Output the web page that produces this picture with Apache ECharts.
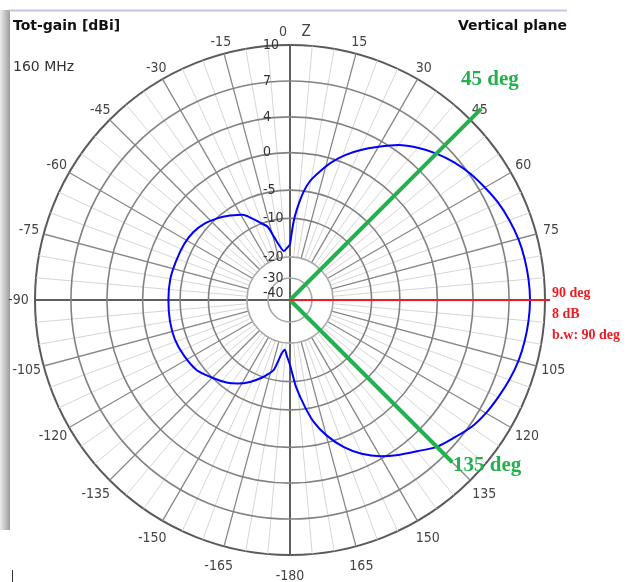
<!DOCTYPE html>
<html><head><meta charset="utf-8">
<script src="https://cdn.jsdelivr.net/npm/echarts@6/dist/echarts.min.js"></script>
<style>html,body{margin:0;padding:0;background:#fff}#c{width:632px;height:582px}</style>
</head><body><div id="c"></div>
<script>
// ---- radial (dB) scale: ring values, their labels, and the normalized radius of each ring ----
const ringDb = [10, 7, 4, 0, -5, -10, -20, -30, -40];
const ringLabels = ['10', '7', '4', '0', '-5', '-10', '-20', '-30', '-40'];
const ringScaleR = [1, 0.859, 0.718, 0.578, 0.431, 0.320, 0.169, 0.086, 0];

// ---- angle axis tick labels (deg, clockwise from zenith) ----
const angleTicks = [15, 30, 45, 60, 75, 105, 120, 135, 150, 165, -180, -165, -150, -135, -120, -105, -90, -75, -60, -45, -30, -15];

// ---- radiation pattern: elevation angle (deg) and total gain (dBi) ----
const patternAngle = [0, 2.5, 4.3, 7, 9.5, 13, 17, 21, 25, 30, 35, 40, 45, 50, 55, 60, 65, 70, 75, 80, 85, 90,
  95, 100, 105, 110, 115, 120, 125, 130, 135, 140, 145, 150, 155, 160, 165, 169, 172, 176, 178, 180,
  -177, -174, -171, -167, -164, -160, -154, -148, -143, -135, -127, -118, -109, -100, -90, -80, -71,
  -62, -55, -48, -41, -36, -32, -29, -25, -21, -17, -14, -11, -7, -3, 0];
const patternGain = [-16.8, -11.1, -8.4, -5.3, -3.6, -2.1, -0.4, 0.9, 2.0, 3.3, 4.5, 5.3, 6.0, 6.6, 7.1, 7.5, 7.9, 8.2, 8.45, 8.6, 8.7, 8.75,
  8.7, 8.6, 8.45, 8.2, 7.9, 7.6, 7.2, 6.6, 6.05, 5.2, 4.5, 3.7, 2.5, 1.0, -1.0, -3.1, -5.3, -9.0, -11.8, -14.3,
  -16.5, -18.2, -17.0, -12.6, -11.3, -9.8, -8.3, -7.0, -6.1, -5.0, -4.1, -3.7, -3.43, -3.4, -3.44, -3.45, -3.6,
  -3.7, -3.9, -4.4, -5.2, -6.0, -6.7, -7.2, -8.5, -9.8, -11.3, -14.5, -16.8, -18.4, -17.6, -16.8];

// ---- annotation: beam width markers ----
const markerAngles = [45, 135];
const markerLabels = ['45 deg', '135 deg'];
const peakAngle = 90;
const peakLabels = ['90 deg', '8 dB', 'b.w: 90 deg'];

function dbToR(db) {
  if (db >= ringDb[0]) return ringScaleR[0];
  for (let i = 0; i < ringDb.length - 1; i++) {
    const a = ringDb[i], b = ringDb[i + 1];
    if (db <= a && db >= b) {
      const t = (a - db) / (a - b);
      return ringScaleR[i] + t * (ringScaleR[i + 1] - ringScaleR[i]);
    }
  }
  return 0;
}
const toAxisAngle = (a, i) => (a < 0 || (i > 0 && a === 0)) ? a + 360 : a;

const patternData = patternAngle.map((a, i) => [dbToR(patternGain[i]), toAxisAngle(a, i)]);
const spokeData = [];
for (let a = 0; a < 360; a += 5) spokeData.push([1, a]);
const ringData = ringDb.slice(1, 8).map(d => [dbToR(d), 0]);
const ringLabelData = ringDb.map(d => [dbToR(d), 0]);
// angle labels sit just outside the rim (a bit further out on the lower half)
const angleLabelData = angleTicks.map(t => {
  const a = toAxisAngle(t, 1);
  return [1.047 + 0.035 * (1 - Math.cos(a * Math.PI / 180)) / 2, a];
});
// annotation rays: [length (normalized radius), angle, colour index]
const rayData = [[1.06, markerAngles[0], 0], [0.9, markerAngles[1], 0], [1.02, peakAngle, 1]];

const narrow = '"Liberation Sans Narrow", "DejaVu Sans Condensed", "Liberation Sans", sans-serif';
const chart = echarts.init(document.getElementById('c'), null, {renderer: 'canvas'});

chart.setOption({
  backgroundColor: '#fff',
  animation: false,
  polar: {center: [290, 300], radius: 255},
  angleAxis: {
    type: 'value', min: 0, max: 360, interval: 15, startAngle: 90, clockwise: true,
    axisLine: {show: true, lineStyle: {color: '#5a5a5a', width: 2}},
    axisTick: {show: false},
    splitLine: {show: false},
    axisLabel: {show: false}
  },
  radiusAxis: {type: 'value', min: 0, max: 1, show: false},
  series: [
    {
      type: 'custom', coordinateSystem: 'polar', data: spokeData, z: 1, silent: true,
      renderItem: (params, api) => {
        const a = api.value(1);
        const axis = a % 90 === 0;
        const major = a % 15 === 0;
        const p0 = api.coord([axis ? 0 : dbToR(-20), a]);
        const p1 = api.coord([1, a]);
        return {type: 'line', shape: {x1: p0[0], y1: p0[1], x2: p1[0], y2: p1[1]},
          style: {stroke: axis ? '#5f5f5f' : (major ? '#888888' : '#d6d6d6'), lineWidth: axis ? 2 : (major ? 1.3 : 1)}};
      }
    },
    {
      type: 'custom', coordinateSystem: 'polar', data: ringData, z: 2, silent: true,
      renderItem: (params, api) => {
        const c = api.coord([0, 0]);
        const p = api.coord([api.value(0), 0]);
        const r = Math.hypot(p[0] - c[0], p[1] - c[1]);
        const inner = params.dataIndex >= 5;
        return {type: 'circle', shape: {cx: c[0], cy: c[1], r: r},
          style: {fill: 'none', stroke: inner ? '#a8a8a8' : '#828282', lineWidth: 1.6}};
      }
    },
    {
      type: 'line', coordinateSystem: 'polar', data: patternData, z: 5, silent: true,
      symbol: 'none', smooth: 0.25, clip: false,
      lineStyle: {color: '#0000ff', width: 2}
    },
    {
      type: 'custom', coordinateSystem: 'polar', data: ringLabelData, z: 6, silent: true,
      renderItem: (params, api) => {
        const c = api.coord([0, 0]);
        const p = api.coord([api.value(0), 0]);
        return {type: 'text', x: p[0] - 27, y: Math.min(p[1], c[1] - 7),
          style: {text: ringLabels[params.dataIndex], align: 'left', verticalAlign: 'middle',
            fill: '#333', fontSize: 14, fontFamily: narrow}};
      }
    },
    {
      type: 'custom', coordinateSystem: 'polar', data: angleLabelData, z: 6, silent: true,
      renderItem: (params, api) => {
        const p = api.coord([api.value(0), api.value(1)]);
        return {type: 'text', x: p[0], y: p[1],
          style: {text: String(angleTicks[params.dataIndex]), align: 'center', verticalAlign: 'middle',
            fill: '#444', fontSize: 14, fontFamily: narrow}};
      }
    },
    {
      type: 'custom', coordinateSystem: 'polar', data: rayData, z: 8, silent: true,
      renderItem: (params, api) => {
        const a = api.value(1);
        const p0 = api.coord([0, a]);
        const p1 = api.coord([api.value(0), a]);
        const red = api.value(2) === 1;
        return {type: 'line', shape: {x1: p0[0], y1: p0[1], x2: p1[0], y2: p1[1]},
          style: {stroke: red ? '#ee1c24' : '#22b14c', lineWidth: red ? 2 : 4, lineCap: 'butt'}};
      }
    }
  ],
  graphic: [
    {type: 'rect', left: 0, top: 10, z: 0, shape: {width: 10, height: 520},
      style: {fill: new echarts.graphic.LinearGradient(0, 0, 1, 0, [{offset: 0, color: '#ececec'}, {offset: 1, color: '#9c9c9c'}])}},
    {type: 'line', z: 0, shape: {x1: 9, y1: 10.5, x2: 567, y2: 10.5}, style: {stroke: '#c6c6de', lineWidth: 2}},
    {type: 'line', z: 0, shape: {x1: 12.5, y1: 570, x2: 12.5, y2: 582}, style: {stroke: '#333', lineWidth: 1}},
    {type: 'text', left: 13, top: 19, z: 20, style: {text: 'Tot-gain [dBi]', fill: '#111', font: 'bold 14px "DejaVu Sans", sans-serif'}},
    {type: 'text', left: 13, top: 60, z: 20, style: {text: '160 MHz', fill: '#333', font: '14px "DejaVu Sans", sans-serif'}},
    {type: 'text', right: 65, top: 19, z: 20, style: {text: 'Vertical plane', fill: '#111', font: 'bold 14px "DejaVu Sans", sans-serif'}},
    {type: 'text', x: 283, y: 32, z: 20, style: {text: '0', fill: '#444', align: 'center', verticalAlign: 'middle', font: '14px ' + narrow}},
    {type: 'text', x: 306, y: 32, z: 20, style: {text: 'Z', fill: '#444', align: 'center', verticalAlign: 'middle', font: '15px ' + narrow}},
    {type: 'text', x: 461, y: 80, z: 20, style: {text: markerLabels[0], fill: '#22b14c', verticalAlign: 'middle', font: 'bold 21px "Liberation Serif", serif'}},
    {type: 'text', x: 453, y: 466, z: 20, style: {text: markerLabels[1], fill: '#22b14c', verticalAlign: 'middle', font: 'bold 21px "Liberation Serif", serif'}},
    {type: 'text', x: 552, y: 293, z: 20, style: {text: peakLabels[0], fill: '#ee1c24', verticalAlign: 'middle', font: 'bold 14px "Liberation Serif", serif'}},
    {type: 'text', x: 552, y: 314, z: 20, style: {text: peakLabels[1], fill: '#ee1c24', verticalAlign: 'middle', font: 'bold 14px "Liberation Serif", serif'}},
    {type: 'text', x: 552, y: 335, z: 20, style: {text: peakLabels[2], fill: '#ee1c24', verticalAlign: 'middle', font: 'bold 14px "Liberation Serif", serif'}}
  ]
});
</script>
</body></html>
